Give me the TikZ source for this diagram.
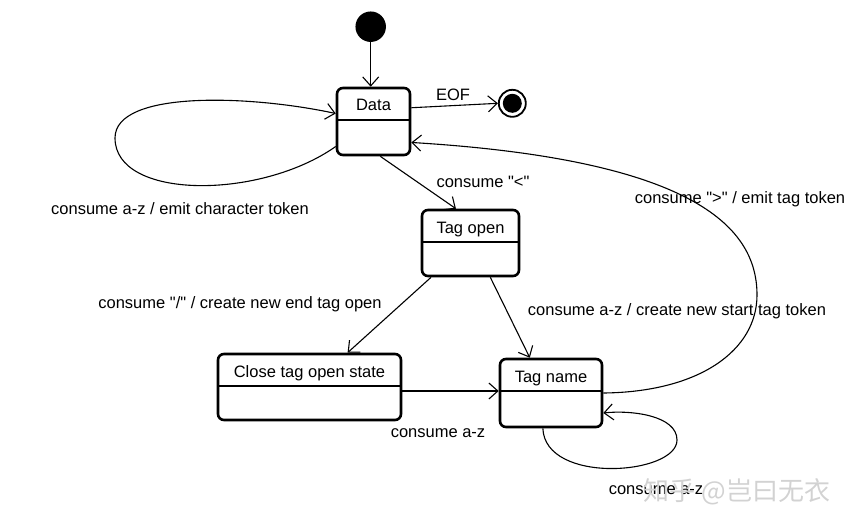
\documentclass[tikz,border=0pt]{standalone}
\usepackage{fontspec}
\setmainfont{Liberation Sans}
\newfontfamily\cjkfont{Noto Sans CJK SC}
\usetikzlibrary{arrows.meta}
\begin{document}
\begin{tikzpicture}[x=1pt,y=-1pt,
  font=\fontsize{16.5}{19}\selectfont,
  statebox/.style={draw, line width=2.6pt, rounded corners=6pt, inner sep=0pt,
    path picture={\draw[line width=1.3pt]
      ([yshift=-32pt]path picture bounding box.north west) --
      ([yshift=-32pt]path picture bounding box.north east);}},
  statename/.style={label={[anchor=center,yshift=-20.5pt]north:#1}},
  initst/.style={circle, fill=black, minimum size=30.5pt, inner sep=0pt},
  finalst/.style={circle, draw, line width=1.8pt, minimum size=27pt, inner sep=0pt},
  conn/.style={line width=1.1pt, -{Straight Barb[length=9pt,width=16pt]}},
  lbl/.style={inner sep=0pt}]
\useasboundingbox (0,0) rectangle (867,531);
% states
\node[initst] (init) at (370.7,26.7) {};
\node[finalst] (final) at (512.3,103.3) {};
\fill (final.center) circle (9.5pt);
\node[statebox, minimum width=73pt, minimum height=67pt,
  label={[anchor=center,yshift=-18pt]north:Data}] (data) at (373.5,121.5) {};
\node[statebox, minimum width=97pt, minimum height=66pt, statename=Tag open] (tagopen) at (470.5,243) {};
\node[statebox, minimum width=183pt, minimum height=66pt, statename=Close tag open state] (close) at (309.5,387) {};
\node[statebox, minimum width=102pt, minimum height=68pt, statename=Tag name] (tagname) at (551,393) {};
% connectors
\draw[conn] (init.south) -- (init.south |- data.north);
\draw[conn] (data.20) -- (final.west);
\draw[conn] ([yshift=-25pt]data.west) .. controls (260,200) and (115,200) .. (115,138)
  .. controls (115,90) and (250,95) .. ([yshift=8pt]data.west);
\draw[conn] (data.-79) -- (tagopen.113);
\draw[conn] (tagopen.221.5) -- (close.42);
\draw[conn] (tagopen.-60) -- (tagname.121);
\draw[conn] ([yshift=-4pt]close.east) -- ([yshift=2pt]tagname.west);
\draw[conn] (tagname.east) .. controls (700,392) and (757,350) .. (757,295)
  .. controls (757,230) and (700,160) .. (data.-29);
\draw[conn] (tagname.-103) .. controls (545,485) and (677,475) .. (677,440)
  .. controls (677,415) and (630,410) .. ([yshift=-20pt]tagname.east);
% labels
\node[lbl] (leof) at (453,95) {EOF};
\node[lbl] (lchar) at (180,209) {consume a-z / emit character token};
\node[lbl] (llt) at (483,182) {consume \textquotedbl<\textquotedbl};
\node[lbl] (lend) at (240,304) {consume \textquotedbl/\textquotedbl{} / create new end tag open};
\node[lbl] (lstart) at (677,311) {consume a-z / create new start tag token};
\node[lbl] (laz) at (438,433) {consume a-z};
\node[lbl] (lgt) at (740,199) {consume \textquotedbl>\textquotedbl{} / emit tag token};
\node[lbl] (laz2) at (656,490) {consume a-z};
\node[text=gray!35, font=\cjkfont\fontsize{26}{28}\selectfont, inner sep=0pt] (wm) at (737,492) {知乎 @岂曰无衣};
\end{tikzpicture}
\end{document}
